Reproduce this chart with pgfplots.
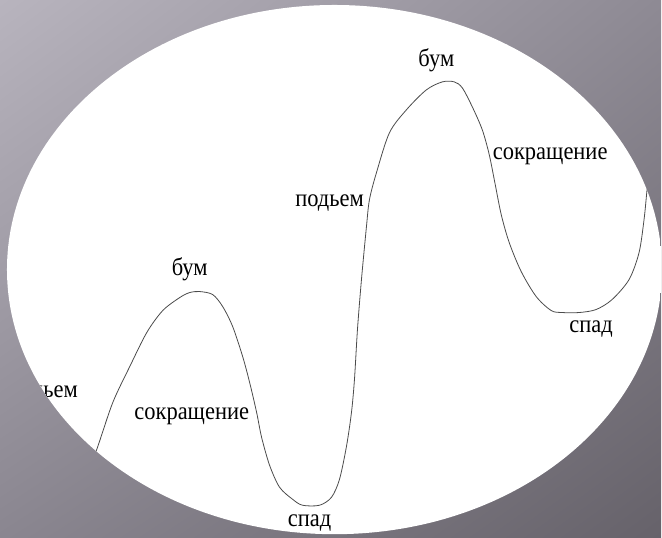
\documentclass[border=0pt]{standalone}
\usepackage{fontspec}
\setmainfont{Liberation Serif}
\newfontfamily\labfont{Liberation Serif}
\usepackage{pgfplots}
\pgfplotsset{compat=1.18}
\usetikzlibrary{shadings}

\definecolor{bgA}{RGB}{184,180,190}
\definecolor{bgB}{RGB}{142,138,148}
\definecolor{bgC}{RGB}{138,134,144}
\definecolor{bgD}{RGB}{102,98,106}
\definecolor{curve}{RGB}{75,75,75}
\tikzset{lab/.style={font=\labfont\fontsize{25}{28}\selectfont, text=black, inner sep=0pt, xscale=0.9}}

\begin{document}
\begin{tikzpicture}[x=1pt,y=1pt]
% slide background
\shade[upper left=bgA, upper right=bgB, lower left=bgC, lower right=bgD]
  (0,0) rectangle (662,538);
\begin{scope}
\clip (335,268) ellipse [x radius=328, y radius=265];
\fill[white] (0,0) rectangle (662,538);
\begin{axis}[
    at={(0,0)}, anchor=south west,
    width=662pt, height=538pt, scale only axis,
    xmin=0, xmax=662, ymin=0, ymax=538,
    y dir=reverse,
    axis lines=none,
    clip=false,
]
\addplot[curve, line width=0.8pt, smooth, tension=0.5] coordinates {
(86,480) (98,447) (113,403) (130,367) (147,333) (163,311) (180,298)
(190,293) (200,292) (213,295) (223,307) (233,327) (243,357) (250,383)
(257,413) (262,438) (270,466) (280,488) (293,500) (303,506) (320,506)
(332,498) (340,480) (347,447) (352,413) (355,380) (358,330) (362,280)
(367,227) (370,200) (377,173) (390,133) (407,110) (427,90) (443,82)
(455,82) (463,88) (473,107) (483,130) (490,155) (496,185) (502,215)
(510,243) (522,272) (537,297) (552,311) (563,313) (580,313) (597,310)
(613,300) (630,280) (640,253) (645,220) (648,190) (652,150)
};
\node[lab, anchor=east] at (axis cs:78,395) {подьем};
\node[lab] at (axis cs:190,270) {бум};
\node[lab] at (axis cs:192,417) {сокращение};
\node[lab] at (axis cs:310,524) {спад};
\node[lab] at (axis cs:330,203) {подьем};
\node[lab] at (axis cs:437,60) {бум};
\node[lab] at (axis cs:551,157) {сокращение};
\node[lab] at (axis cs:592,330) {спад};
\end{axis}
\end{scope}
\end{tikzpicture}
\end{document}
